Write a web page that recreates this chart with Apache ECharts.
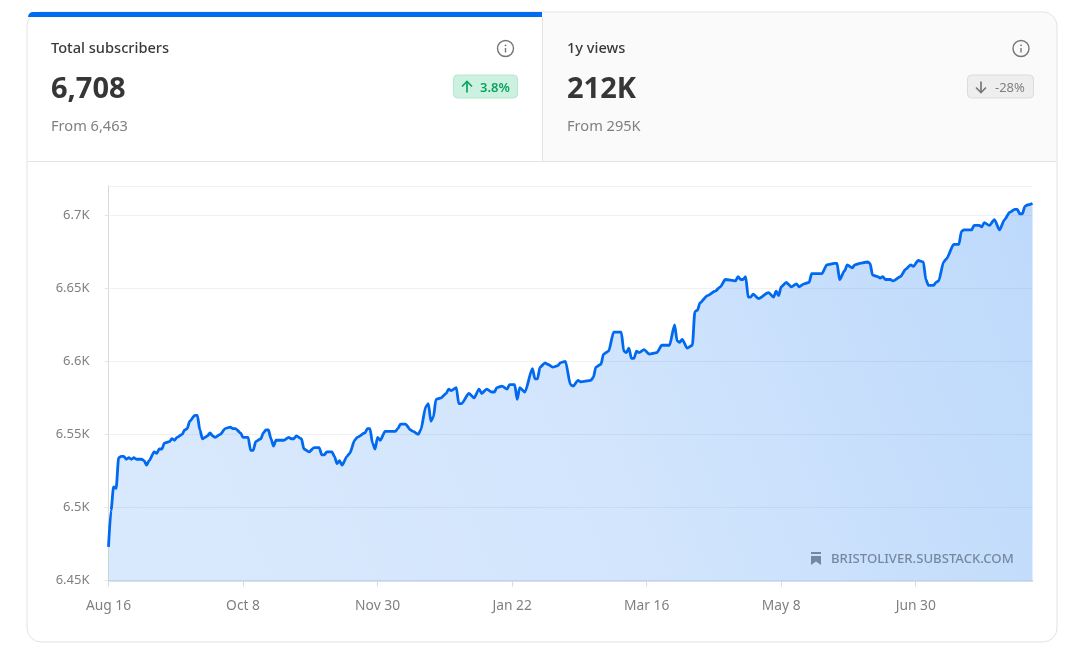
<!DOCTYPE html>
<html>
<head>
<meta charset="utf-8">
<style>html,body{margin:0;padding:0;background:#fff}#c{width:1080px;height:664px}</style>
<script src="https://cdn.jsdelivr.net/npm/echarts@6/dist/echarts.min.js"></script>
</head>
<body>
<div id="c"></div>
<script>
const dayIndex = [0,1,2,3,4,5,6,7,8,9,10,11,13,14,15,16,18,19,20,21,22,24,25,26,27,29,30,31,32,34,35,36,37,38,39,40,41,42,44,46,48,49,50,52,53,55,56,57,58,60,61,62,63,64,65,66,69,71,72,73,74,76,77,79,81,83,84,85,86,88,89,90,91,92,94,95,97,98,101,102,103,104,105,106,107,109,113,114,115,117,119,120,122,123,125,126,127,128,129,131,133,134,135,137,138,139,142,144,146,147,149,151,152,153,155,157,158,160,161,162,164,167,168,169,170,172,173,175,177,178,180,182,183,185,186,190,191,192,194,195,197,199,202,203,204,205,206,207,208,209,211,213,216,218,221,223,224,225,226,228,230,231,232,233,236,239,241,243,247,248,249,250,251,252,253,254,256,260,262,263,264,265,267,269,271,272,274,276,277,278,281,283,286,287,288,290,291,293,294,296,299,300,301,303,304,305,306,308,309,312,314,316,317,319,321,322,323,325,326,327,329,330,333,335,336,337,340,341,343,344,345,347,349,351,353,355,357,358,359,360,361,362,364];
const subscribers = [6473,6498,6514,6513,6534,6535,6535,6533,6534,6533,6534,6533,6533,6532,6529,6532,6538,6537,6540,6540,6544,6545,6547,6546,6548,6550,6553,6554,6559,6563,6563,6553,6547,6548,6549,6551,6549,6548,6550,6554,6555,6554,6554,6551,6548,6548,6539,6539,6545,6547,6551,6553,6553,6547,6542,6546,6546,6548,6547,6547,6549,6547,6540,6538,6541,6541,6536,6536,6538,6538,6535,6530,6532,6529,6535,6537,6546,6548,6551,6554,6554,6544,6540,6548,6546,6552,6552,6554,6557,6557,6553,6552,6550,6553,6569,6571,6559,6562,6574,6575,6578,6581,6580,6582,6571,6571,6578,6575,6581,6578,6581,6579,6579,6582,6583,6581,6584,6584,6574,6582,6579,6595,6588,6588,6596,6599,6598,6596,6597,6599,6600,6584,6583,6587,6586,6587,6589,6596,6598,6605,6607,6620,6620,6607,6606,6609,6602,6602,6607,6606,6608,6605,6606,6611,6611,6625,6614,6613,6615,6609,6611,6634,6635,6640,6645,6648,6651,6656,6655,6658,6656,6656,6658,6644,6644,6646,6643,6647,6644,6648,6645,6651,6654,6651,6653,6651,6653,6654,6660,6660,6660,6666,6667,6667,6656,6662,6666,6664,6666,6667,6668,6667,6659,6658,6657,6658,6656,6656,6655,6658,6663,6666,6665,6669,6668,6656,6652,6652,6654,6655,6668,6670,6680,6680,6689,6690,6690,6693,6693,6692,6695,6693,6697,6690,6697,6702,6704,6704,6701,6701,6706,6707,6708];
const xTickDays = [0,53,106,159,212,265,318];
const xTickLabels = ["Aug 16","Oct 8","Nov 30","Jan 22","Mar 16","May 8","Jun 30"];
const yTickLabels = {6450:"6.45K",6500:"6.5K",6550:"6.55K",6600:"6.6K",6650:"6.65K",6700:"6.7K"};

const FONT = '"Noto Sans", sans-serif';
function txt(x, y, text, size, weight, color, extra) {
  return {type:'text', x, y, z:10, silent:true,
    style:Object.assign({text, fontFamily:FONT, fontSize:size, fontWeight:weight, fill:color, verticalAlign:'middle', align:'left'}, extra||{})};
}
function infoIcon(cx, cy) {
  return [
    {type:'circle', z:10, silent:true, shape:{cx, cy, r:8}, style:{fill:'none', stroke:'#757575', lineWidth:1.4}},
    {type:'line', z:10, silent:true, shape:{x1:cx, y1:cy-0.5, x2:cx, y2:cy+4}, style:{stroke:'#757575', lineWidth:1.4}},
    {type:'circle', z:10, silent:true, shape:{cx, cy:cy-3.2, r:0.9}, style:{fill:'#757575'}}
  ];
}
function arrow(cx, cy, dir, color) {
  return [
    {type:'line', z:10, silent:true, shape:{x1:cx, y1:cy-5.5, x2:cx, y2:cy+5.5}, style:{stroke:color, lineWidth:1.7}},
    {type:'polyline', z:10, silent:true, shape:{points:[[cx-5,cy-dir*0.5],[cx,cy-dir*5.5],[cx+5,cy-dir*0.5]]}, style:{fill:'none', stroke:color, lineWidth:1.7}}
  ];
}
const graphics = [
  {type:'rect', z:1, silent:true, shape:{x:542,y:12.5,width:515,height:149,r:[0,14,0,0]}, style:{fill:'#fafafa'}},
  {type:'rect', z:2, silent:true, shape:{x:27,y:12,width:1030,height:630,r:14}, style:{fill:'none',stroke:'#e2e2e2',lineWidth:1}},
  {type:'rect', z:3, silent:true, shape:{x:28,y:12,width:514,height:5,r:[12,0,0,0]}, style:{fill:'#006cf0'}},
  {type:'line', z:3, silent:true, shape:{x1:27.5,y1:161.5,x2:1056.5,y2:161.5}, style:{stroke:'#e4e4e4',lineWidth:1}},
  {type:'line', z:3, silent:true, shape:{x1:542.5,y1:17,x2:542.5,y2:161}, style:{stroke:'#e4e4e4',lineWidth:1}},
  txt(51,49,'Total subscribers',14.6,500,'#3a3a3a'),
  txt(51,89.5,'6,708',29,700,'#363636'),
  txt(51,127,'From 6,463',14.6,400,'#808080'),
  ...infoIcon(505.5,48.5),
  {type:'rect', z:5, silent:true, shape:{x:453.5,y:75,width:64,height:23,r:4}, style:{fill:'#cdf1e0',stroke:'#b3e8cf',lineWidth:1}},
  ...arrow(467,87,1,'#0ba360'),
  txt(480,88,'3.8%',13,600,'#0ba360'),
  txt(567,49,'1y views',14.6,500,'#3a3a3a'),
  txt(567,89.5,'212K',29,700,'#363636'),
  txt(567,127,'From 295K',14.6,400,'#808080'),
  ...infoIcon(1021,48.5),
  {type:'rect', z:5, silent:true, shape:{x:967.5,y:75,width:66,height:23,r:4}, style:{fill:'#eeeeee',stroke:'#dcdcdc',lineWidth:1}},
  ...arrow(981,87,-1,'#777777'),
  txt(995,88,'-28%',13,400,'#808080'),
  {type:'polygon', z:10, silent:true, shape:{points:[[811,556],[821,556],[821,565],[816,561.5],[811,565]]}, style:{fill:'#76889f'}},
  {type:'rect', z:10, silent:true, shape:{x:811,y:552,width:10,height:2}, style:{fill:'#76889f'}},
  txt(831,559.5,'BRISTOLIVER.SUBSTACK.COM',13.15,500,'#76889f')
];

const chart = echarts.init(document.getElementById('c'), null, {width:1080, height:664});
chart.setOption({
  animation:false,
  backgroundColor:'#ffffff',
  textStyle:{fontFamily:FONT},
  grid:{left:108.5, right:47.5, top:186, bottom:83.5, containLabel:false},
  xAxis:{
    type:'value', min:0, max:364,
    splitLine:{show:false},
    axisLine:{show:true, onZero:false, lineStyle:{color:'#c9d6ea', width:1.5}},
    axisTick:{show:true, customValues:xTickDays, length:6, lineStyle:{color:'#d9d9d9'}},
    axisLabel:{customValues:xTickDays, margin:19, fontSize:13.8, color:'#808080', fontFamily:FONT,
      formatter:v=>xTickLabels[xTickDays.indexOf(v)]||''}
  },
  yAxis:{
    type:'value', min:6450, max:6720, interval:50,
    axisLine:{show:true, onZero:false, lineStyle:{color:'#d9d9d9', width:1}},
    axisTick:{show:true, length:4, lineStyle:{color:'#e6e6e6'}},
    splitLine:{show:true, lineStyle:{color:'#f1f1f1', width:1}},
    axisLabel:{margin:19, fontSize:13, color:'#808080', fontFamily:FONT, showMaxLabel:false,
      formatter:v=>yTickLabels[v]||''}
  },
  series:[{
    type:'line',
    data:dayIndex.map((d,i)=>[d,subscribers[i]]),
    showSymbol:false, smooth:0.25, smoothMonotone:'x',
    lineStyle:{color:'#0069ef', width:2.8},
    itemStyle:{color:'#0069ef'},
    areaStyle:{color:new echarts.graphic.LinearGradient(0,1,1,0,[
      {offset:0,color:'rgba(0,108,240,0.21)'},
      {offset:0.5,color:'rgba(0,108,240,0.25)'},
      {offset:1,color:'rgba(0,108,240,0.37)'}])}
  }],
  graphic:graphics
});
</script>
</body>
</html>
